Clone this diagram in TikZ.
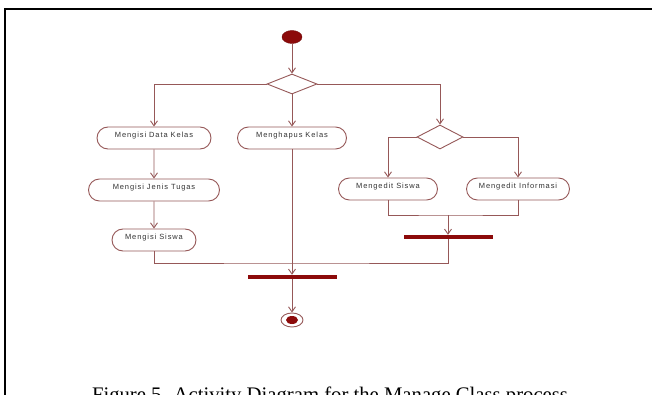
\documentclass[tikz,border=0pt]{standalone}
\usepackage{fontspec}
\setmainfont{Liberation Serif}
\newfontfamily\actfont[LetterSpace=12]{Liberation Sans}
\usetikzlibrary{arrows.meta,positioning,calc,shapes.geometric,shapes.misc}
\definecolor{umlline}{RGB}{150,88,88}
\definecolor{umlred}{RGB}{140,10,10}
\tikzset{
  activity/.style={
    draw=umlline,
    rounded rectangle,
    fill=white,
    line width=0.9pt,
    minimum height=22pt,
    inner sep=2pt,
    text height=6pt,
    text depth=7pt,
    text=black!80,
    font=\actfont\fontsize{7.5}{9}\selectfont
  },
  decision/.style={draw=umlline, diamond, line width=0.9pt, fill=white, inner sep=0pt},
  syncbar/.style={fill=umlred, minimum width=89pt, minimum height=4pt, inner sep=0pt},
  initialnode/.style={ellipse, draw=umlred!80!black, fill=umlred, minimum width=20pt, minimum height=13pt, inner sep=0pt},
  finalnode/.style={ellipse, draw=umlline, fill=white, line width=0.9pt, minimum width=22pt, minimum height=14pt, inner sep=0pt},
  finalcore/.style={ellipse, fill=umlred, minimum width=12pt, minimum height=8pt, inner sep=0pt},
  flow/.style={draw=umlline, line width=0.9pt, -{Straight Barb[length=5pt,width=7pt]}},
  link/.style={draw=umlline, line width=0.9pt}
}

\begin{document}
\begin{tikzpicture}[x=1pt, y=-1pt]
  \clip (0,0) rectangle (652,395);
  \fill[white] (0,0) rectangle (652,395);
  % frame
  \draw[line width=1.3pt] (5,395) -- (5,9) -- (652,9);

  \node[initialnode] (start) at (292,37) {};
  \node[decision, minimum width=50pt, minimum height=20pt] (dec1) at (292,84) {};
  \node[activity, minimum width=118pt] (isidata) at (154,138) {Mengisi Data Kelas};
  \node[activity, minimum width=113pt] (hapus) at (292,138) {Menghapus Kelas};
  \node[activity, minimum width=135pt] (isijenis) at (154,190) {Mengisi Jenis Tugas};
  \node[activity, minimum width=88pt] (isisiswa) at (154,240) {Mengisi Siswa};
  \node[decision, minimum width=46pt, minimum height=24pt] (dec2) at (440,137) {};
  \node[activity, minimum width=103pt] (editsiswa) at (388,189) {Mengedit Siswa};
  \node[activity, minimum width=107pt] (editinfo) at (518,189) {Mengedit Informasi};
  \node[syncbar] (join2) at (448,237) {};
  \node[syncbar] (join1) at (292,277) {};
  \node[finalnode] (end) at (292,320) {};
  \node[finalcore] (endcore) at (end) {};
  \coordinate (merge2) at (448,215);
  \coordinate (merge1) at (292,263);

  \draw[flow] (start) -- (dec1);
  \draw[flow] (dec1.west) -| (isidata.north);
  \draw[flow] (dec1.south) -- (hapus.north);
  \draw[flow] (dec1.east) -| (dec2.north);
  \draw[flow] (isidata) -- (isijenis);
  \draw[flow] (isijenis) -- (isisiswa);
  \draw[flow] (dec2.west) -| (editsiswa.north);
  \draw[flow] (dec2.east) -| (editinfo.north);
  \draw[link] (editsiswa.south) |- (merge2) -| (editinfo.south);
  \draw[flow] (merge2) -- (join2.north);
  \draw[link] (isisiswa.south) |- (merge1) -| (join2.south);
  \draw[flow] (hapus.south) -- (join1.north);
  \draw[flow] (join1.south) -- (end.north);

  \node[anchor=base, font=\fontsize{20.7}{24}\selectfont] (caption) at (330,401)
    {Figure 5. Activity Diagram for the Manage Class process};
\end{tikzpicture}
\end{document}
